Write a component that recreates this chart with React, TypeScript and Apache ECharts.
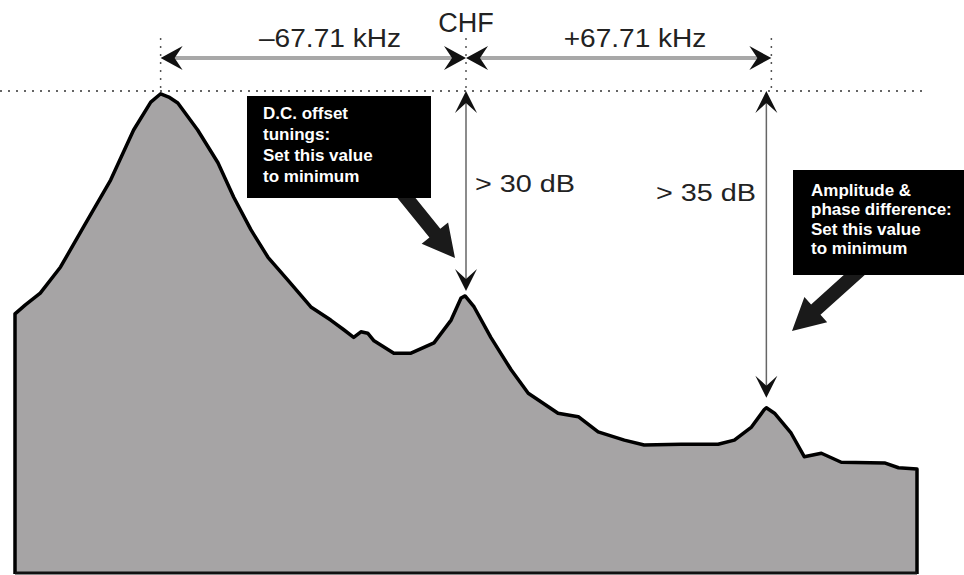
import React, { useEffect, useRef } from "react";
import * as echarts from "echarts";

// Spectrum trace: frequency offset from channel centre (kHz) and relative level (dB)
const freqKHz = [
  -100, -100, -97.7, -94.4, -89.9, -84.8, -78.8, -73.7, -69.9, -67.7, -65.9, -63.9,
  -59.5, -55.0, -51.5, -47.7, -43.9, -39.5, -34.4, -30.0, -27.1, -24.9, -23.3,
  -21.8, -20.4, -16.0, -12.2, -7.1, -3.3, -1.1, -0.2, 1.8, 5.5, 10.0, 13.8, 20.4,
  24.9, 29.3, 35.1, 39.5, 47.7, 55.9, 59.5, 63.3, 66.1, 66.6, 68.4, 72.1, 75.0,
  78.8, 83.2, 92.8, 95.9, 100, 100,
];
const levelDB = [
  -70, -32.3, -31.0, -29.3, -25.5, -19.7, -12.9, -5.65, -1.6, -0.4, -0.87, -1.74,
  -5.65, -10.4, -15.4, -20.1, -24.1, -27.4, -31.3, -33.2, -34.6, -35.7, -34.9,
  -35.1, -36.2, -38.0, -38.0, -36.5, -33.2, -30.0, -29.7, -31.3, -35.7, -40.4,
  -43.8, -46.7, -47.2, -49.4, -50.6, -51.3, -51.2, -51.2, -50.6, -48.7, -46.2,
  -45.9, -46.7, -49.6, -53.0, -52.5, -53.8, -53.9, -54.6, -54.8, -70,
];

const offsetKHz = 67.71;
const offsetLabels = ["–67.71 kHz", "CHF", "+67.71 kHz"];
const dbLabels = ["> 30 dB", "> 35 dB"];
const spurLevels = [-29.7, -45.9];
const box1Lines = ["D.C. offset", "tunings:", "Set this value", "to minimum"];
const box2Lines = ["Amplitude &", "phase difference:", "Set this value", "to minimum"];

const FONT = "'Liberation Sans', Arial, sans-serif";

function thickArrow(sx: number, sy: number, tx: number, ty: number, w: number, hw: number, hl: number) {
  const len = Math.hypot(tx - sx, ty - sy);
  const dx = (tx - sx) / len, dy = (ty - sy) / len;
  const nx = -dy, ny = dx;
  const bx = tx - dx * hl, by = ty - dy * hl;
  return [
    [sx + nx * w / 2, sy + ny * w / 2],
    [bx + nx * w / 2, by + ny * w / 2],
    [bx + nx * hw / 2, by + ny * hw / 2],
    [tx, ty],
    [bx - nx * hw / 2, by - ny * hw / 2],
    [bx - nx * w / 2, by - ny * w / 2],
    [sx - nx * w / 2, sy - ny * w / 2],
  ];
}

export default function App() {
  const ref = useRef<HTMLDivElement>(null);
  useEffect(() => {
    document.body.style.margin = "0";
    if (!ref.current) return;
    const chart = echarts.init(ref.current, null, { renderer: "svg" });
    chart.setOption({
      animation: false,
      backgroundColor: "#ffffff",
      grid: { left: 15, right: 47, top: 91, bottom: 1 },
      xAxis: { type: "value", min: -100, max: 100, show: false },
      yAxis: { type: "value", min: -70, max: 0, show: false },
      series: [
        {
          type: "line",
          data: freqKHz.map((f, i) => [f, levelDB[i]]),
          symbol: "none",
          lineStyle: { color: "#000", width: 3.5, join: "round" },
          areaStyle: { color: "#a6a4a5", opacity: 1, origin: "start" },
          z: 2,
        },
      ],
    });

    const px = (f: number) => chart.convertToPixel({ xAxisIndex: 0 }, f) as number;
    const py = (v: number) => chart.convertToPixel({ yAxisIndex: 0 }, v) as number;
    const XL = px(-offsetKHz), X0 = px(0), XR = px(offsetKHz);
    const Y0 = py(0);
    const ay = 58;

    const g: any[] = [];
    // bottom edge of the trace
    g.push({ type: "line", shape: { x1: px(-100), y1: 573, x2: px(100), y2: 573 }, style: { stroke: "#111", lineWidth: 3 } });
    // horizontal dotted reference line
    g.push({ type: "line", shape: { x1: 0, y1: Y0, x2: 922, y2: Y0 }, style: { stroke: "#333", lineWidth: 1.5, lineDash: [2, 6] } });
    // vertical dotted lines
    [XL, X0, XR].forEach((x) => {
      g.push({ type: "line", shape: { x1: x, y1: 38, x2: x, y2: Y0 }, style: { stroke: "#555", lineWidth: 1.5, lineDash: [2, 6] } });
    });
    // horizontal dimension arrows
    g.push({ type: "line", shape: { x1: XL + 10, y1: ay, x2: X0 - 10, y2: ay }, style: { stroke: "#a8a8a8", lineWidth: 4 } });
    g.push({ type: "line", shape: { x1: X0 + 10, y1: ay, x2: XR - 10, y2: ay }, style: { stroke: "#a8a8a8", lineWidth: 4 } });
    const hHead = (tip: number, dir: number) => ({
      type: "polygon",
      shape: { points: [[tip, ay], [tip - dir * 22, ay - 12], [tip - dir * 14, ay], [tip - dir * 22, ay + 12]] },
      style: { fill: "#111" },
    });
    g.push(hHead(XL, -1), hHead(X0, 1), hHead(X0, -1), hHead(XR, 1));
    // labels
    g.push({ type: "text", x: 330, y: 38, scaleX: 1.08, style: { text: offsetLabels[0], font: `26px ${FONT}`, fill: "#222", align: "center", verticalAlign: "middle" } });
    g.push({ type: "text", x: X0, y: 23, style: { text: offsetLabels[1], font: `27px ${FONT}`, fill: "#222", align: "center", verticalAlign: "middle" } });
    g.push({ type: "text", x: 635, y: 38, scaleX: 1.08, style: { text: offsetLabels[2], font: `26px ${FONT}`, fill: "#222", align: "center", verticalAlign: "middle" } });

    // vertical dB arrows
    const vArrow = (x: number, tipB: number) => {
      g.push({ type: "line", shape: { x1: x, y1: Y0 + 4, x2: x, y2: tipB - 4 }, style: { stroke: "#666", lineWidth: 1.5 } });
      g.push({ type: "polygon", shape: { points: [[x, Y0], [x - 11, Y0 + 22], [x, Y0 + 12], [x + 11, Y0 + 22]] }, style: { fill: "#111" } });
      g.push({ type: "polygon", shape: { points: [[x, tipB], [x - 11, tipB - 22], [x, tipB - 12], [x + 11, tipB - 22]] }, style: { fill: "#111" } });
    };
    vArrow(X0, py(spurLevels[0]) - 5);
    vArrow(px(66.6), py(spurLevels[1]) - 10);
    g.push({ type: "text", x: 475, y: 184, scaleX: 1.2, style: { text: dbLabels[0], font: `24px ${FONT}`, fill: "#222", align: "left", verticalAlign: "middle" } });
    g.push({ type: "text", x: 656, y: 193, scaleX: 1.2, style: { text: dbLabels[1], font: `24px ${FONT}`, fill: "#222", align: "left", verticalAlign: "middle" } });

    // annotation boxes
    g.push({ type: "polygon", shape: { points: thickArrow(400, 190, 455, 258, 14, 34, 32) }, style: { fill: "#1a1a1a" } });
    g.push({ type: "rect", shape: { x: 247, y: 96, width: 184, height: 102 }, style: { fill: "#000" } });
    box1Lines.forEach((t, i) => {
      g.push({ type: "text", x: 263, y: 113 + i * 21.3, style: { text: t, font: `bold 17px ${FONT}`, fill: "#fff", align: "left", verticalAlign: "middle" } });
    });
    g.push({ type: "polygon", shape: { points: thickArrow(862, 268, 792, 331, 14, 34, 32) }, style: { fill: "#1a1a1a" } });
    g.push({ type: "rect", shape: { x: 793, y: 170, width: 171, height: 105 }, style: { fill: "#000" } });
    box2Lines.forEach((t, i) => {
      g.push({ type: "text", x: 811, y: 190 + i * 19.5, style: { text: t, font: `bold 17px ${FONT}`, fill: "#fff", align: "left", verticalAlign: "middle" } });
    });

    chart.setOption({ graphic: g.map((el) => ({ ...el, z: 100 })) });
    return () => chart.dispose();
  }, []);
  return <div ref={ref} style={{ position: "fixed", left: 0, top: 0, width: 964, height: 575 }} />;
}
